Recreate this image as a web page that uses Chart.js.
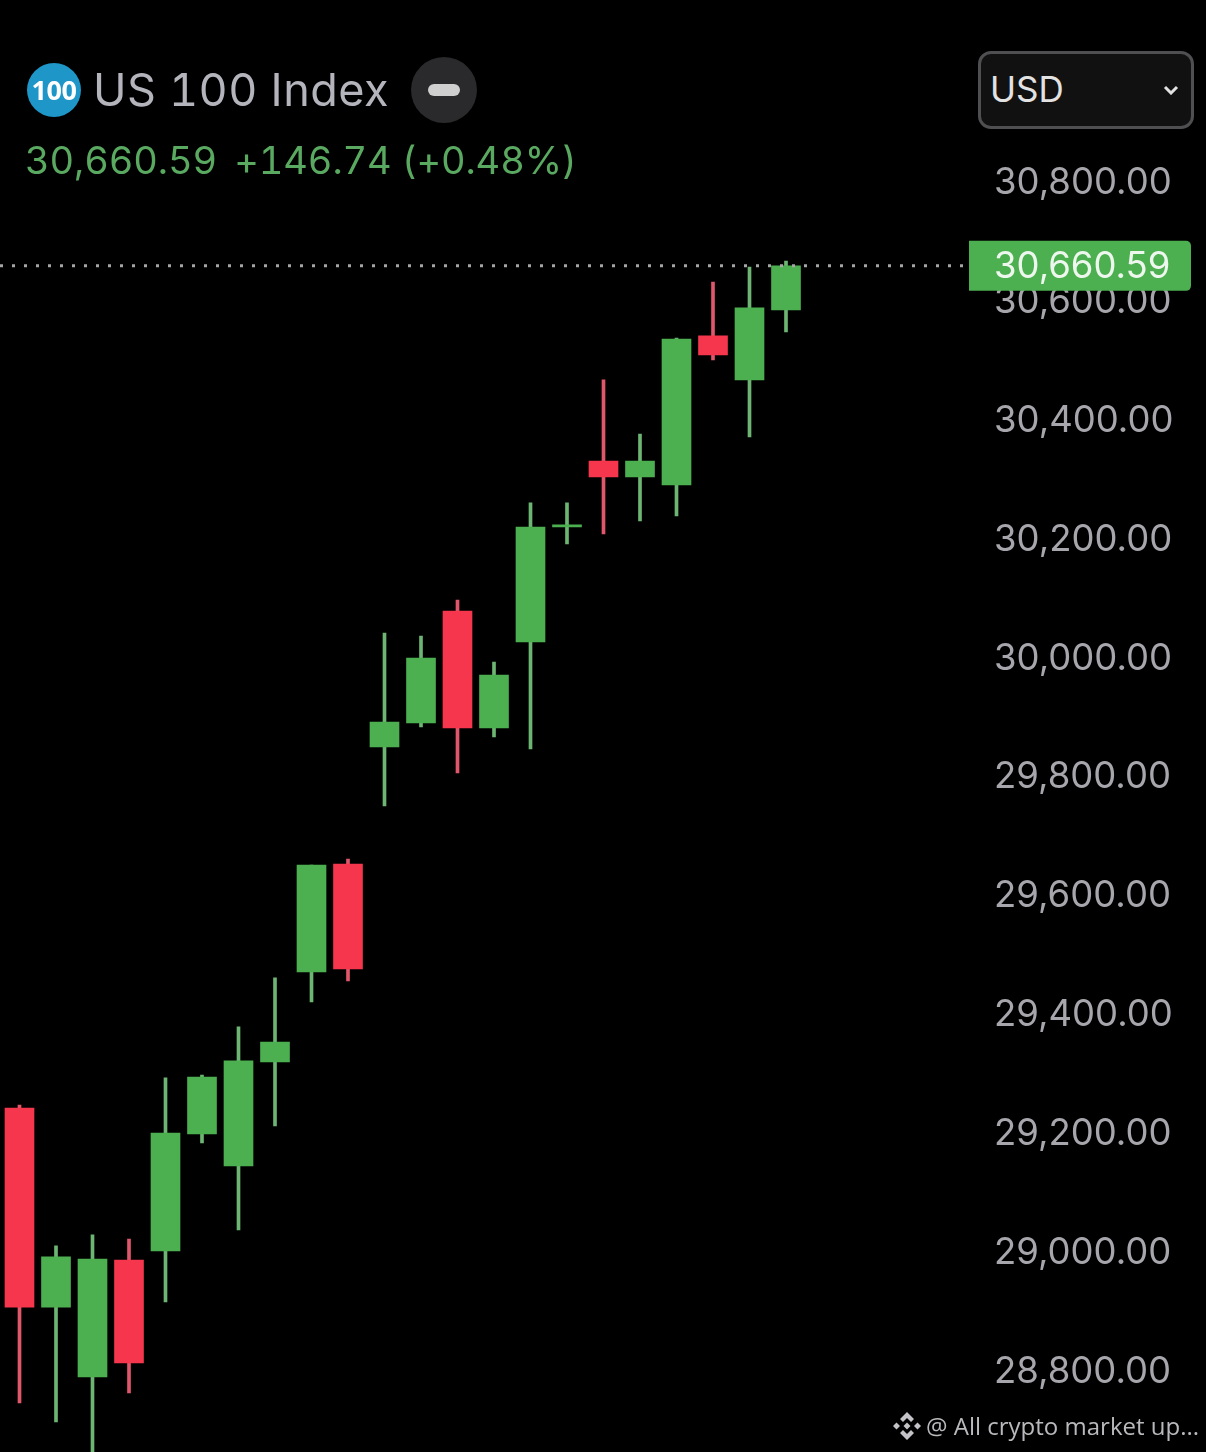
<!DOCTYPE html>
<html>
<head>
<meta charset="utf-8">
<title>US 100 Index</title>
<script src="https://cdn.jsdelivr.net/npm/chart.js@4"></script>
<style>
  html, body { margin: 0; padding: 0; background: #000; }
  #wrap { position: relative; width: 1206px; height: 1452px; overflow: hidden; background: #000; font-family: Inter, Roboto, sans-serif; }
  canvas { position: absolute; left: 0; top: 0; }
  .abs { position: absolute; white-space: nowrap; }
  #logo { left: 27px; top: 63px; width: 54px; height: 54px; border-radius: 50%; background: #1e96c8; color: #fff; font: 700 27px/54px "Open Sans"; text-align: center; letter-spacing: -0.5px; }
  #title { left: 93px; top: 62px; font: 400 45px/56px Inter; font-variant-numeric: tabular-nums; color: #b4b4bc; letter-spacing: 0.5px; }
  #minus { left: 411px; top: 57px; width: 66px; height: 66px; border-radius: 50%; background: #2a2a2c; }
  #minus i { position: absolute; left: 17px; top: 27px; width: 32px; height: 12px; border-radius: 6px; background: #cfcfcf; }
  #quote { left: 25px; top: 136px; font: 400 38px/48px Inter; font-variant-numeric: tabular-nums; color: #5aa961; letter-spacing: -0.1px; }
  #quote .chg { margin-left: -3px; }
  #usd { left: 978px; top: 51px; width: 210px; height: 72px; border: 3px solid #4f4f52; border-radius: 13px; background: #111; }
  #usd span { position: absolute; left: 9px; top: 13px; font: 400 35px/44px Inter; color: #e2e2e2; }
  #usd svg { position: absolute; left: 182px; top: 31px; }
  #mark { left: 926px; top: 1410px; font: 400 24px/32px "Open Sans"; color: #b9b9bd; }
  #diamond { left: 892px; top: 1411px; }
</style>
</head>
<body>
<div id="wrap">
  <canvas id="candles" width="1206" height="1452"></canvas>
  <div class="abs" id="logo">100</div>
  <div class="abs" id="title">US 100 Index</div>
  <div class="abs" id="minus"><i></i></div>
  <div class="abs" id="quote">30,660.59&nbsp; <span class="chg">+146.74 (+0.48%)</span></div>
  <div class="abs" id="usd"><span>USD</span>
    <svg width="16" height="10" viewBox="0 0 16 10"><path d="M2 2 L8 8 L14 2" fill="none" stroke="#e2e2e2" stroke-width="3"/></svg>
  </div>
  <svg class="abs" id="diamond" width="30" height="30" viewBox="0 0 30 30" fill="#c4c4c8">
    <path d="M15 1 L22 8 L19 11 L15 7 L11 11 L8 8 Z"/>
    <path d="M15 29 L22 22 L19 19 L15 23 L11 19 L8 22 Z"/>
    <path d="M15 11.5 L18.5 15 L15 18.5 L11.5 15 Z"/>
    <path d="M4.5 11.5 L8 15 L4.5 18.5 L1 15 Z"/>
    <path d="M25.5 11.5 L29 15 L25.5 18.5 L22 15 Z"/>
  </svg>
  <div class="abs" id="mark">@ All crypto market up...</div>
</div>
<script>
// candles, left to right (4 empty slots on the right)
var sessions = ['1','2','3','4','5','6','7','8','9','10','11','12','13','14','15','16','17','18','19','20','21','22','23','24','25','26'];
var opens  = [29244, 28909, 28791.6, 28988.4, 29003.6, 29200.4, 29146.5, 29321.5, 29472.9, 29654.5, 29851.3, 29891.7, 30080, 29883.3, 30028, 30221.5, 30332.4, 30305.5, 30292, 30542.7, 30468.7, 30586.4];
var highs  = [29249, 29012, 29030.5, 29023.7, 29294.6, 29299.6, 29380.4, 29462.8, 29652.8, 29662.9, 30043, 30038, 30098.6, 29994.3, 30261.8, 30261.8, 30468.7, 30377.8, 30539.3, 30633.5, 30658.7, 30668.8];
var lows   = [28748, 28716, 28640, 28764.7, 28917.8, 29185.2, 29038.9, 29213.8, 29422.4, 29457.7, 29752, 29885, 29807.6, 29868.2, 29848, 30192.8, 30209.6, 30231.5, 30239.9, 30502.3, 30372.8, 30549.4];
var closes = [28909, 28993.5, 28990, 28815.2, 29202, 29296.2, 29323.2, 29355, 29652.8, 29477.9, 29893.4, 30001, 29883.3, 29972.4, 30221.4, 30225, 30305.5, 30332.4, 30537.6, 30510.7, 30589.8, 30660.59];
var tickValues = [28800, 29000, 29200, 29400, 29600, 29800, 30000, 30200, 30400, 30600, 30800];
var lastPrice = 30660.59;

var UP = '#4caf50', DOWN = '#f5364c';
var UP_WICK = '#6db572', DOWN_WICK = '#e0566a';

function money(v) {
  return v.toLocaleString('en-US', { minimumFractionDigits: 2, maximumFractionDigits: 2 });
}

var bodies = opens.map(function (o, i) { return [o, closes[i]]; });
var wicks = lows.map(function (l, i) { return [l, highs[i]]; });

// dotted last price line and the green price tag
var priceTag = {
  id: 'priceTag',
  afterDraw: function (chart) {
    var ctx = chart.ctx;
    var y = chart.scales.y.getPixelForValue(lastPrice);
    ctx.save();
    ctx.strokeStyle = '#a5a5a5';
    ctx.lineWidth = 3;
    ctx.setLineDash([3, 9]);
    ctx.beginPath();
    ctx.moveTo(0, y);
    ctx.lineTo(968, y);
    ctx.stroke();
    ctx.setLineDash([]);
    ctx.fillStyle = UP;
    ctx.beginPath();
    ctx.roundRect(969, y - 25, 222, 50, [0, 5, 5, 0]);
    ctx.fill();
    ctx.fillStyle = '#eef7ee';
    ctx.font = '36.5px Inter';
    ctx.textBaseline = 'middle';
    ctx.fillText(money(lastPrice), 994, y + 1);
    ctx.restore();
  }
};

new Chart(document.getElementById('candles'), {
  type: 'bar',
  data: {
    labels: sessions,
    datasets: [
      {
        label: 'Body',
        data: bodies,
        grouped: false,
        barThickness: 29,
        order: 1,
        backgroundColor: function (c) { return closes[c.dataIndex] >= opens[c.dataIndex] ? UP : DOWN; }
      },
      {
        label: 'Wick',
        data: wicks,
        grouped: false,
        barThickness: 3,
        order: 2,
        backgroundColor: function (c) { return closes[c.dataIndex] >= opens[c.dataIndex] ? UP_WICK : DOWN_WICK; }
      }
    ]
  },
  options: {
    responsive: false,
    animation: false,
    layout: { padding: { left: 1.25 } },
    plugins: { legend: { display: false }, tooltip: { enabled: false } },
    scales: {
      x: { display: false, offset: true, grid: { display: false } },
      y: {
        position: 'right',
        min: 28665.4,
        max: 31107.8,
        border: { display: false },
        grid: { display: false, drawTicks: false },
        afterFit: function (scale) {
          scale.width = 255.75;
          scale.paddingTop = 0;
          scale.paddingBottom = 0;
        },
        afterBuildTicks: function (scale) {
          scale.ticks = tickValues.map(function (v) { return { value: v }; });
        },
        ticks: {
          autoSkip: false,
          padding: 43.75,
          color: '#a6a6ac',
          font: { family: 'Inter', size: 36.5 },
          callback: function (v) { return money(v); }
        }
      }
    }
  },
  plugins: [priceTag]
});
</script>
</body>
</html>
